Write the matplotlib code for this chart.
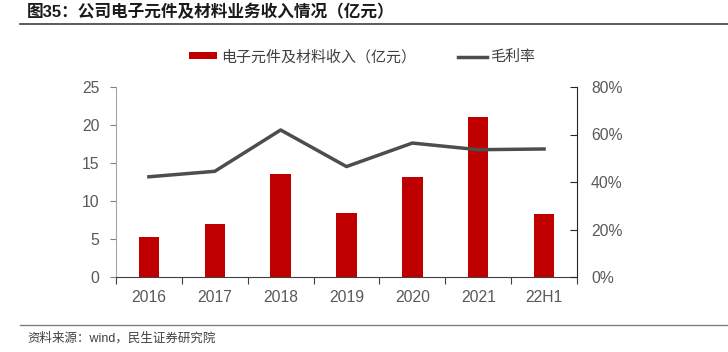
import matplotlib.pyplot as plt
import numpy as np
from matplotlib.ticker import PercentFormatter

plt.rcParams['font.family'] = ['Liberation Sans', 'Noto Sans CJK SC', 'DejaVu Sans']

years = ['2016', '2017', '2018', '2019', '2020', '2021', '22H1']
revenue = [5.26, 6.97, 13.6, 8.38, 13.16, 21.0, 8.25]
margin = [42.2, 44.5, 61.9, 46.5, 56.4, 53.6, 53.9]

fig = plt.figure(figsize=(7.28, 3.52), dpi=100)
ax = fig.add_axes([116/728, 1 - 277/352, 461/728, 190/352])
ax2 = ax.twinx()

x = np.arange(len(years))
bars = ax.bar(x, revenue, width=0.31, color='#c00000', zorder=2)
line, = ax2.plot(x, margin, color='#4d4d4d', lw=2.5, zorder=3)

ax.set_xlim(-0.5, len(years) - 0.5)
ax.set_ylim(0, 25)
ax.set_yticks([0, 5, 10, 15, 20, 25])
ax2.set_ylim(0, 80)
ax2.set_yticks([0, 20, 40, 60, 80])
ax2.yaxis.set_major_formatter(PercentFormatter(decimals=0))

# category boundaries get the ticks, labels sit between them
ax.set_xticks(np.arange(-0.5, len(years), 1))
ax.set_xticklabels([])
ax.set_xticks(x, minor=True)
ax.set_xticklabels(years, minor=True)
ax.tick_params(axis='x', which='major', length=5, color='#404040', direction='out')
ax.tick_params(axis='x', which='minor', length=0, labelsize=11.3, labelcolor='#595959', pad=9)
ax.tick_params(axis='y', length=4, color='#808080', direction='out', labelsize=11.3,
               labelcolor='#595959', pad=8)
ax2.tick_params(axis='y', length=5, color='#262626', direction='in', labelsize=11.3,
                labelcolor='#595959', pad=10)

for a in (ax, ax2):
    for s in a.spines.values():
        s.set_visible(False)
ax.spines['left'].set_visible(True)
ax.spines['left'].set_color('#a6a6a6')
ax.spines['bottom'].set_visible(True)
ax.spines['bottom'].set_color('#404040')
ax2.spines['right'].set_visible(True)
ax2.spines['right'].set_color('#262626')

fig.legend([bars, line], ['电子元件及材料收入（亿元）', '毛利率'],
           loc='center', bbox_to_anchor=(362/728, 1 - 57/352), ncol=2, frameon=False,
           fontsize=10.8, handlelength=1.9, handleheight=0.35, handletextpad=0.25,
           columnspacing=2.8, labelcolor='#404040')

fig.text(27/728, 1 - 12/352, '图35：公司电子元件及材料业务收入情况（亿元）', fontsize=12,
         fontweight='bold', va='center', ha='left', color='#1a1a1a')
fig.add_artist(plt.Line2D([20/728, 1.0], [1 - 24/352, 1 - 24/352], color='#404040', lw=1.2))
fig.add_artist(plt.Line2D([20/728, 1.0], [1 - 325/352, 1 - 325/352], color='#808080', lw=1))
fig.text(27/728, 1 - 338/352, '资料来源：wind，民生证券研究院', fontsize=9,
         va='center', ha='left', color='#404040')

fig.savefig('out.png', dpi=100)
